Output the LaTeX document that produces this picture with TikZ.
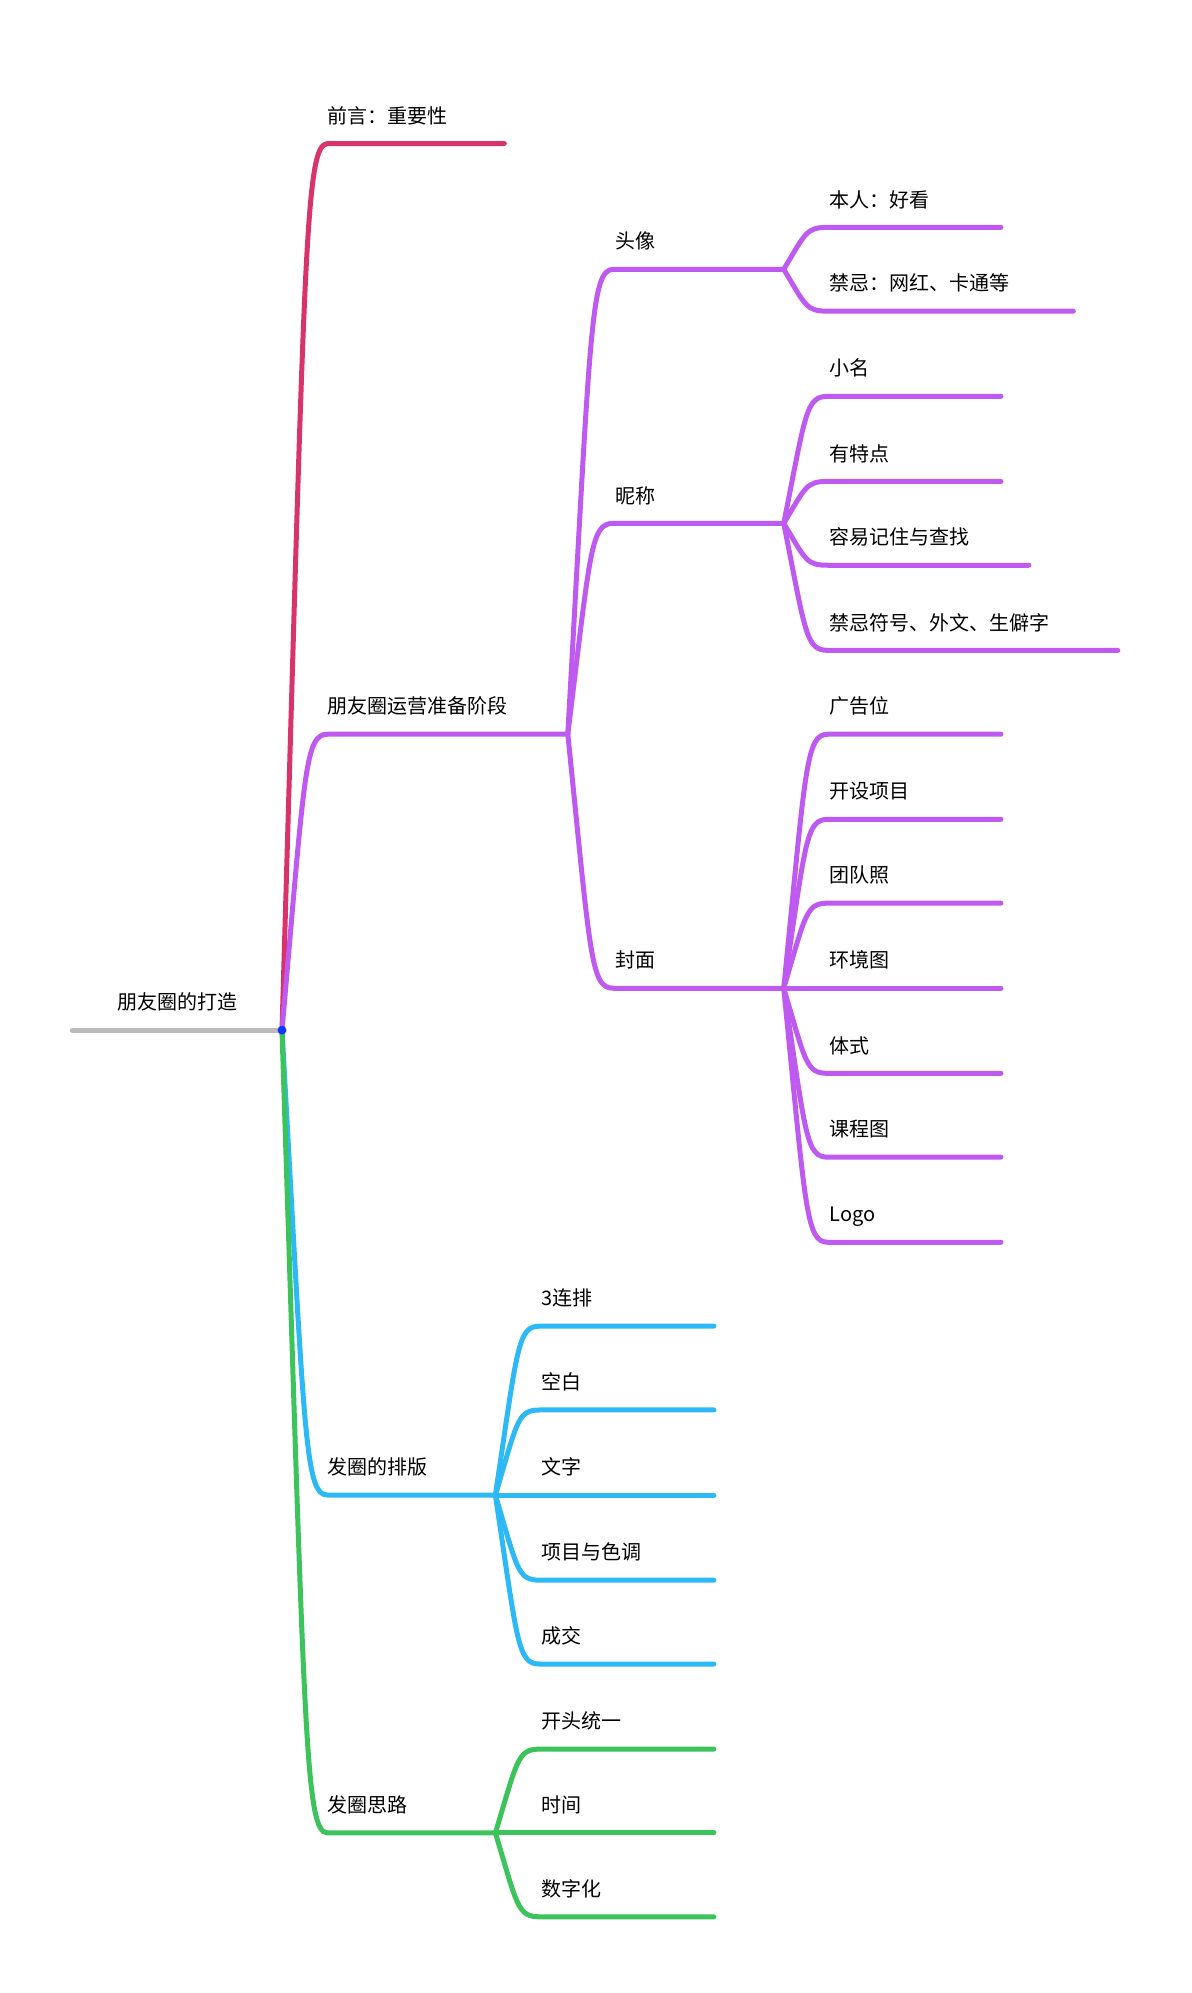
\documentclass[tikz,border=0pt]{standalone}
\usepackage{fontspec}
\setmainfont{Noto Sans CJK SC}
\definecolor{cred}{HTML}{D8336A}
\definecolor{cpur}{HTML}{BF5AF0}
\definecolor{cblu}{HTML}{2DB9F5}
\definecolor{cgrn}{HTML}{3CC35C}
\definecolor{cgry}{HTML}{BBBBBB}
\newcommand\brc[6]{%
 \pgfmathsetmacro\ax{#2+0.5*(#4-#2)}\pgfmathsetmacro\ay{#3+0.88*(#5-#3)}%
 \pgfmathsetmacro\bx{#2+0.5*(#4-#2)}%
 \draw[ln,#1] (#2,#3) .. controls (\ax,\ay) and (\bx,#5) .. (#4,#5) -- (#6,#5);}
\newcommand\lab[3]{\node[lbl] at (#1,#2) {#3};}
\begin{document}
\begin{tikzpicture}[x=1.27pt,y=-1.27pt,
 ln/.style={line width=5pt,line cap=round},
 lbl/.style={anchor=base west,font=\fontsize{20}{24}\selectfont,inner sep=0pt}]
\useasboundingbox (0,0) rectangle (938,1569);
\draw[ln,cgry] (57,811) -- (222,811);
\node[lbl,anchor=base] at (140,795) {朋友圈的打造};
% red
\brc{cred}{222}{811}{258}{113}{397}\lab{258}{97}{前言：重要性}
% purple
\brc{cpur}{222}{811}{258}{578}{447}\lab{258}{562}{朋友圈运营准备阶段}
\brc{cpur}{447}{578}{483}{212}{617}\lab{484}{196}{头像}
\brc{cpur}{447}{578}{483}{412}{617}\lab{484}{396}{昵称}
\brc{cpur}{447}{578}{483}{778}{617}\lab{484}{762}{封面}
\brc{cpur}{617}{212}{652}{179}{788}\lab{653}{163}{本人：好看}
\brc{cpur}{617}{212}{652}{245}{845}\lab{653}{229}{禁忌：网红、卡通等}
\brc{cpur}{617}{412}{652}{312}{788}\lab{653}{296}{小名}
\brc{cpur}{617}{412}{652}{379}{788}\lab{653}{363}{有特点}
\brc{cpur}{617}{412}{652}{445}{810}\lab{653}{429}{容易记住与查找}
\brc{cpur}{617}{412}{652}{512}{880}\lab{653}{496}{禁忌符号、外文、生僻字}
\brc{cpur}{617}{778}{652}{578}{788}\lab{653}{562}{广告位}
\brc{cpur}{617}{778}{652}{645}{788}\lab{653}{629}{开设项目}
\brc{cpur}{617}{778}{652}{711}{788}\lab{653}{695}{团队照}
\brc{cpur}{617}{778}{652}{778}{788}\lab{653}{762}{环境图}
\brc{cpur}{617}{778}{652}{845}{788}\lab{653}{829}{体式}
\brc{cpur}{617}{778}{652}{911}{788}\lab{653}{895}{课程图}
\brc{cpur}{617}{778}{652}{978}{788}\lab{653}{962}{Logo}
% blue
\brc{cblu}{222}{811}{258}{1177}{390}\lab{258}{1161}{发圈的排版}
\brc{cblu}{390}{1177}{425}{1044}{562}\lab{426}{1028}{3连排}
\brc{cblu}{390}{1177}{425}{1110}{562}\lab{426}{1094}{空白}
\brc{cblu}{390}{1177}{425}{1177}{562}\lab{426}{1161}{文字}
\brc{cblu}{390}{1177}{425}{1244}{562}\lab{426}{1228}{项目与色调}
\brc{cblu}{390}{1177}{425}{1310}{562}\lab{426}{1294}{成交}
% green
\brc{cgrn}{222}{811}{258}{1443}{390}\lab{258}{1427}{发圈思路}
\brc{cgrn}{390}{1443}{425}{1377}{562}\lab{426}{1361}{开头统一}
\brc{cgrn}{390}{1443}{425}{1443}{562}\lab{426}{1427}{时间}
\brc{cgrn}{390}{1443}{425}{1509}{562}\lab{426}{1493}{数字化}
\fill[blue!70!cblu] (222,811) circle (3.5);
\end{tikzpicture}
\end{document}
